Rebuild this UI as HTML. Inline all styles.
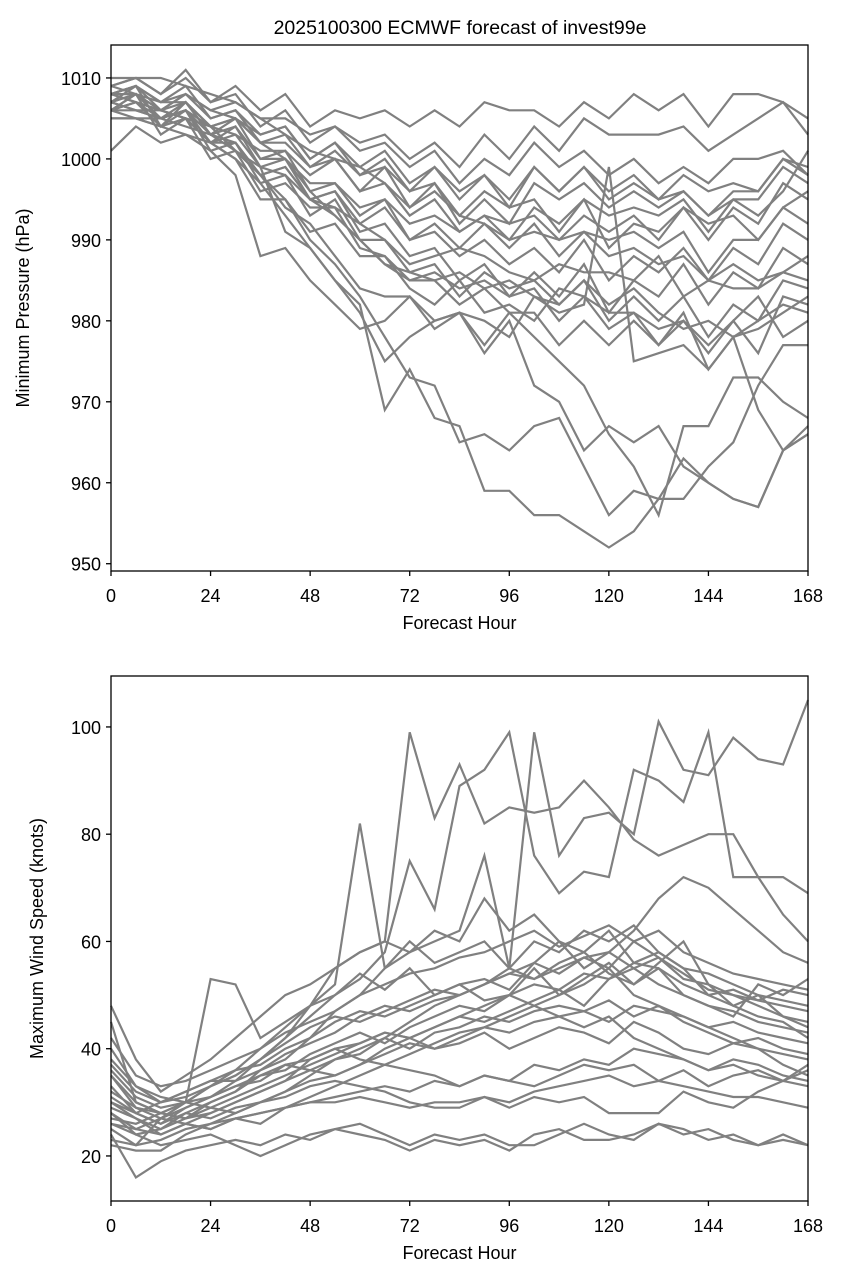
<!DOCTYPE html>
<html><head><meta charset="utf-8">
<style>
html,body{margin:0;padding:0;background:#fff;}
svg{display:block;font-family:"Liberation Sans","DejaVu Sans",sans-serif;}
</style></head>
<body>
<svg id="chart" width="843" height="1279" viewBox="0 0 843 1279" xmlns="http://www.w3.org/2000/svg">
<rect width="843" height="1279" fill="#fff"/>
<text x="460" y="34" font-size="19.5" text-anchor="middle">2025100300 ECMWF forecast of invest99e</text>
<g id="top"></g>
<g id="bot"></g>
</svg>
<script>
const hours = [0,6,12,18,24,30,36,42,48,54,60,66,72,78,84,90,96,102,108,114,120,126,132,138,144,150,156,162,168];
const xTicks = [0,24,48,72,96,120,144,168];
const pTicks = [950,960,970,980,990,1000,1010];
const wTicks = [20,40,60,80,100];
const pressureSeries = [
[1007,1006,1005,1004,1003,1001,998,995,990,987,983,978,973,972,965,966,964,967,968,962,956,959,958,963,960,958,957,964,967],
[1006,1005,1004,1003,1002,1000,997,993,989,985,982,969,974,968,967,959,959,956,956,954,952,954,958,958,962,965,972,977,977],
[1008,1007,1006,1005,1004,1001,999,991,989,985,981,975,978,980,981,977,981,978,975,972,966,962,956,967,967,973,973,970,968],
[1006,1008,1005,1006,1003,1002,998,994,992,988,984,983,983,980,981,980,978,983,981,982,999,975,976,977,974,978,969,964,966],
[1001,1004,1002,1003,1001,998,988,989,985,982,979,980,983,979,981,976,980,972,970,964,967,965,967,962,960,958,957,964,966],
[1008,1009,1007,1008,1006,1005,1002,1000,996,993,990,987,986,985,986,984,985,983,982,985,982,984,981,979,980,978,980,982,981],
[1010,1010,1010,1009,1008,1007,1005,1003,1001,1000,999,997,994,996,993,992,990,991,990,991,988,989,987,988,985,987,985,986,985],
[1009,1010,1008,1011,1007,1009,1006,1008,1004,1006,1005,1006,1004,1006,1004,1007,1006,1006,1004,1007,1005,1008,1006,1008,1004,1008,1008,1007,1005],
[1007,1008,1006,1008,1006,1007,1005,1005,1003,1004,1002,1003,1000,1002,999,1003,1000,1004,1001,1005,1003,1003,1003,1004,1001,1003,1005,1007,1003],
[1005,1005,1005,1007,1004,1005,1003,1004,1000,1002,999,1001,997,999,996,998,994,999,996,999,995,997,995,996,993,996,996,1000,999],
[1006,1007,1005,1006,1004,1003,1001,1001,998,1000,996,997,993,995,991,993,990,994,992,995,989,992,991,994,990,994,992,997,995],
[1008,1009,1004,1007,1003,1005,1000,1001,996,997,993,995,990,991,988,990,987,989,986,990,985,988,986,989,985,989,987,992,990],
[1007,1006,1005,1006,1002,1004,999,1000,995,996,991,992,988,989,985,987,983,986,983,987,981,985,983,987,982,986,984,989,987],
[1006,1008,1003,1005,1002,1002,997,998,993,995,990,990,986,987,983,986,984,985,982,985,980,983,980,983,978,982,980,985,984],
[1009,1008,1006,1005,1000,1001,996,997,994,994,989,988,984,982,985,981,982,980,984,983,981,981,977,980,976,980,976,983,982],
[1008,1007,1006,1005,1004,1001,998,999,995,994,992,990,987,988,989,988,986,985,987,986,986,985,988,983,985,984,984,986,988],
[1007,1009,1007,1009,1005,1006,1002,1003,999,1001,998,999,996,997,993,996,994,995,991,995,993,994,993,995,991,995,995,999,997],
[1005,1005,1004,1005,1002,1000,995,995,991,992,988,988,985,985,982,984,981,981,977,980,977,980,977,981,974,978,979,981,983],
[1008,1008,1007,1007,1004,1005,1002,1002,999,1000,996,999,994,997,992,995,992,997,995,997,994,996,994,996,993,995,993,996,1001],
[1006,1007,1004,1006,1001,1002,998,999,995,996,992,994,990,992,989,992,989,992,988,991,990,991,989,991,986,990,990,994,992],
[1009,1010,1008,1010,1007,1008,1004,1006,1002,1004,1001,1002,999,1001,997,1000,998,1002,999,1001,998,1000,997,999,997,1000,1000,1001,998],
[1007,1008,1005,1006,1002,1003,999,998,995,993,990,987,985,986,984,985,983,984,980,983,979,981,979,980,977,980,983,978,980],
[1006,1006,1006,1007,1003,1004,1000,1000,997,997,994,995,992,993,991,993,992,993,990,993,991,993,990,994,992,993,990,994,996],
[1008,1009,1006,1008,1005,1006,1003,1004,1000,1002,998,1000,996,999,995,998,995,999,996,999,996,998,995,998,996,997,996,1000,998]
];
const windSeries = [
[25,22,27,30,33,36,40,44,48,52,82,55,60,56,58,60,55,60,58,62,60,63,58,55,54,52,50,49,48],
[30,28,26,29,31,34,38,42,48,55,58,60,99,83,93,82,85,84,85,90,85,79,76,78,80,80,72,72,69],
[35,30,28,27,30,32,36,38,42,47,50,55,58,60,62,76,55,99,76,83,84,80,101,92,91,98,94,93,105],
[40,33,30,31,33,35,38,42,46,50,53,58,75,66,89,92,99,76,69,73,72,92,90,86,99,72,72,65,60],
[48,38,32,35,38,42,46,50,52,55,58,60,58,62,60,68,62,65,60,55,58,62,68,72,70,66,62,58,56],
[45,30,28,30,53,52,42,45,48,50,54,51,55,50,52,49,50,55,50,53,56,52,55,50,48,46,52,50,53],
[22,21,21,24,26,28,30,32,35,38,40,42,45,48,50,52,54,56,60,58,62,56,58,55,50,48,46,45,42],
[28,25,27,26,25,27,26,29,31,33,35,37,39,41,43,44,46,48,50,52,55,50,48,46,44,42,40,39,38],
[30,27,25,28,27,29,30,32,34,35,37,40,42,44,46,48,50,48,46,44,46,42,40,38,36,37,35,34,33],
[24,16,19,21,22,23,22,24,23,25,24,23,21,23,22,23,21,24,25,23,23,24,26,25,23,24,22,24,22],
[26,24,22,23,24,22,20,22,24,25,26,24,22,24,23,24,22,22,24,26,24,23,26,24,25,23,22,23,22],
[32,29,28,27,29,28,30,31,33,34,33,32,30,29,29,31,29,31,30,31,28,28,28,32,30,29,32,34,36],
[36,31,29,30,31,33,34,37,38,40,38,37,36,35,33,35,34,33,35,37,36,37,34,36,33,35,36,34,37],
[27,26,28,30,29,31,33,35,37,39,41,43,42,44,46,45,47,49,51,48,53,55,52,50,48,47,45,44,43],
[33,28,30,32,34,36,37,40,42,45,47,46,48,50,52,53,51,56,54,57,55,60,57,53,52,50,49,51,50],
[29,27,24,26,28,30,32,34,38,40,41,43,42,40,41,43,40,42,44,43,41,45,43,40,39,41,40,37,35],
[37,32,30,32,34,34,36,39,41,43,46,48,47,49,50,52,55,53,56,58,54,52,56,60,52,48,50,46,44],
[26,25,24,26,25,27,28,29,30,31,32,33,32,34,33,35,34,37,36,38,37,40,39,38,36,38,37,35,34],
[31,28,26,28,30,32,35,37,36,38,39,42,40,43,44,46,45,47,48,47,49,46,48,45,43,41,42,40,39],
[42,35,33,34,36,38,40,43,45,47,50,52,54,55,57,58,60,62,59,61,63,60,62,58,56,54,53,52,51],
[28,24,25,27,28,30,32,34,36,35,37,39,41,40,42,44,43,45,46,47,45,48,47,46,44,45,43,42,41],
[35,29,27,29,31,33,35,36,39,41,43,41,44,46,48,47,50,52,51,54,53,56,55,52,50,51,49,48,47],
[23,22,23,25,26,27,28,29,30,30,31,30,29,30,30,31,30,32,33,34,35,33,34,33,32,31,31,30,29],
[38,33,31,30,33,35,38,41,44,46,45,47,49,51,50,52,54,53,55,57,58,55,57,54,51,50,48,46,45]
];
const NS="http://www.w3.org/2000/svg";
function el(parent,tag,attrs){const e=document.createElementNS(NS,tag);for(const k in attrs)e.setAttribute(k,attrs[k]);parent.appendChild(e);return e;}
function panel(g,cfg){
  const L=111,R=808,T=cfg.top,B=cfg.bottom;
  const xs=h=>L+(h-0)/168*(R-L);
  const ys=v=>B-(v-cfg.ymin)/(cfg.ymax-cfg.ymin)*(B-T);
  cfg.series.forEach((s,i)=>{
    const d=s.map((v,j)=>(j?'L':'M')+xs(hours[j]).toFixed(1)+','+ys(v).toFixed(1)).join('');
    const p=el(g,'path',{d:d,fill:'none',stroke:'#808080','stroke-width':2.2,'stroke-linejoin':'miter'});
    
    
  });
  const box=el(g,'rect',{x:L,y:T,width:R-L,height:B-T,fill:'none',stroke:'#000','stroke-width':1.3});
  
  
  xTicks.forEach(t=>{
    const x=xs(t);
    el(g,'line',{x1:x,x2:x,y1:B,y2:B+5,stroke:'#000','stroke-width':1.3});
    const tx=el(g,'text',{x:x,y:B+31,'font-size':18,'text-anchor':'middle'});tx.textContent=t;
    
    
  });
  cfg.ticks.forEach(t=>{
    const y=ys(t);
    el(g,'line',{x1:L-5,x2:L,y1:y,y2:y,stroke:'#000','stroke-width':1.3});
    const tx=el(g,'text',{x:L-10,y:y+7,'font-size':18,'text-anchor':'end'});tx.textContent=t;
    
    
  });
  const xl=el(g,'text',{x:(L+R)/2,y:B+58,'font-size':18,'text-anchor':'middle'});xl.textContent='Forecast Hour';
  
  
  const yl=el(g,'text',{x:0,y:0,'font-size':18,'text-anchor':'middle',transform:'translate('+cfg.ylx+','+((T+B)/2)+') rotate(-90)'});yl.textContent=cfg.ylabel;
  
  
}
panel(document.getElementById('top'),{name:'pressure',top:45,bottom:571,ymin:949.1,ymax:1014.07,ticks:pTicks,series:pressureSeries,ylabel:'Minimum Pressure (hPa)',ylx:29});
panel(document.getElementById('bot'),{name:'wind',top:676,bottom:1201,ymin:11.6,ymax:109.5,ticks:wTicks,series:windSeries,ylabel:'Maximum Wind Speed (knots)',ylx:43});
</script>
</body></html>
